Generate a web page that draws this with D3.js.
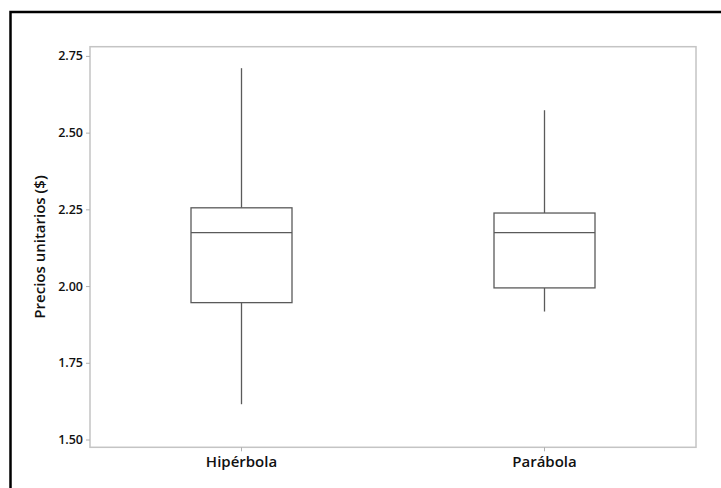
<!DOCTYPE html>
<html><head><meta charset="utf-8">
<script src="https://cdn.jsdelivr.net/npm/d3@7"></script>
<style>
body{margin:0;background:#fff;}
svg{display:block;font-family:"Open Sans","Noto Sans",sans-serif;}
</style></head>
<body>
<svg id="c" width="721" height="488"></svg>
<script>
const categories = ["Hipérbola", "Parábola"];
const mins    = [1.615, 1.917];
const q1s     = [1.946, 1.994];
const medians = [2.174, 2.174];
const q3s     = [2.255, 2.238];
const maxs    = [2.710, 2.573];
const yTicks  = [1.50, 1.75, 2.00, 2.25, 2.50, 2.75];
const yTitle  = "Precios unitarios ($)";

const svg = d3.select("#c");
const L = 90, R = 696, T = 46.7, B = 447.3;

// outer frame (extends beyond right/bottom edge)
svg.append("rect").attr("x",10.5).attr("y",12).attr("width",740).attr("height",500)
  .attr("fill","none").attr("stroke","#000").attr("stroke-width",2.5);

const x = d3.scaleBand().domain(categories).range([L,R]).padding(0);
const y = d3.scaleLinear().domain([1.4746, 2.780]).range([B,T]);

// plot frame
svg.append("rect").attr("x",L).attr("y",T).attr("width",R-L).attr("height",B-T)
  .attr("fill","none").attr("stroke","#c4c4c4").attr("stroke-width",1.5);

// y axis
const ya = svg.append("g").attr("transform",`translate(${L},0)`)
  .call(d3.axisLeft(y).tickValues(yTicks).tickFormat(d3.format(".2f")).tickSize(4).tickPadding(3));
ya.select(".domain").remove();
ya.selectAll(".tick line").attr("stroke","#b0b0b0");
ya.selectAll(".tick text").attr("font-size",12.5).attr("font-weight",600).attr("fill","#111")
  .attr("font-family","'Open Sans',sans-serif");

// x axis
const xa = svg.append("g").attr("transform",`translate(0,${B})`)
  .call(d3.axisBottom(x).tickSize(4).tickPadding(5));
xa.select(".domain").remove();
xa.selectAll(".tick line").attr("stroke","#b0b0b0");
xa.selectAll(".tick text").attr("font-size",15).attr("font-weight",600).attr("fill","#111")
  .attr("font-family","'Open Sans',sans-serif");

// y title
svg.append("text").attr("transform",`translate(45,${(T+B)/2}) rotate(-90)`)
  .attr("text-anchor","middle").attr("font-size",15).attr("font-weight",600).attr("fill","#111")
  .text(yTitle);

// boxes
const bw = x.bandwidth()/3;
const g = svg.append("g").attr("stroke","#5a5a5a").attr("stroke-width",1.3).attr("fill","none");
categories.forEach((c,i)=>{
  const cx = x(c) + x.bandwidth()/2;
  g.append("line").attr("x1",cx).attr("x2",cx).attr("y1",y(maxs[i])).attr("y2",y(q3s[i]));
  g.append("line").attr("x1",cx).attr("x2",cx).attr("y1",y(q1s[i])).attr("y2",y(mins[i]));
  g.append("rect").attr("x",cx-bw/2).attr("y",y(q3s[i])).attr("width",bw)
    .attr("height",y(q1s[i])-y(q3s[i])).attr("fill","#fff");
  g.append("line").attr("x1",cx-bw/2).attr("x2",cx+bw/2).attr("y1",y(medians[i])).attr("y2",y(medians[i]));
});
</script>
</body></html>
